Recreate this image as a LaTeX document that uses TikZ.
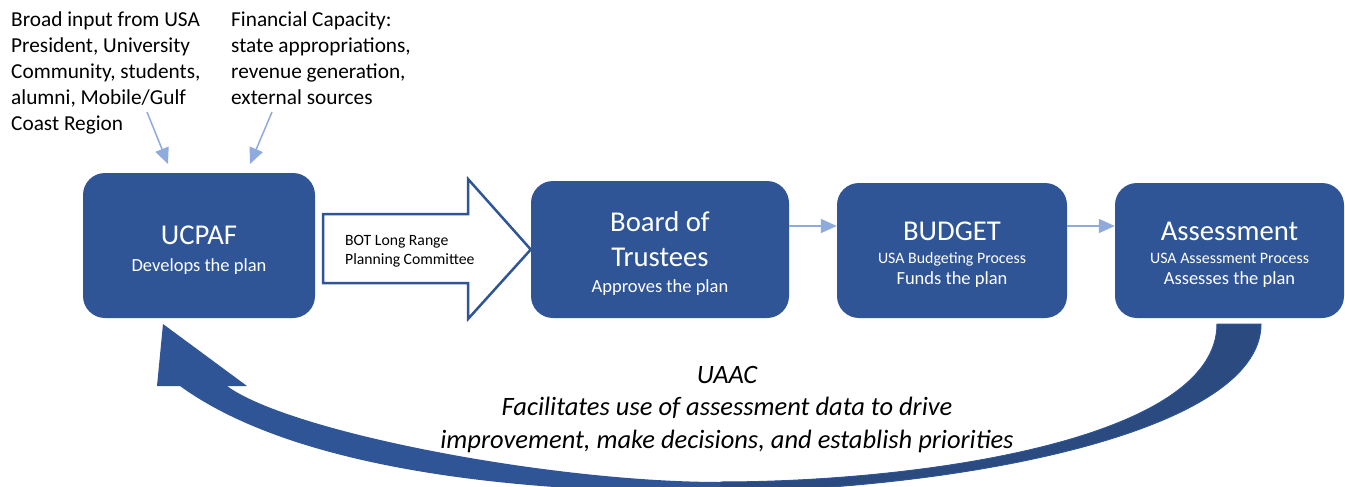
\documentclass[tikz,border=0pt]{standalone}
\usepackage{xcolor}
\usepackage{tikz}
\usetikzlibrary{shapes, arrows.meta, positioning}
\usepackage{fontspec}
\setmainfont{Carlito}

\definecolor{boxblue}{HTML}{2F5597}
\definecolor{tailblue}{HTML}{2A4A80}
\definecolor{linkblue}{HTML}{8FAADC}
\newcommand{\titlelift}{\rule{0pt}{27pt}}
\newcommand{\uaacloop}{(1217,324) .. controls (1217,440) and (920,482) .. (720,482)
    .. controls (550,482) and (290,432) .. (227,386) -- (247,386) -- (163,324) -- (157,386) -- (180,386)
    .. controls (290,466) and (500,492) .. (700,492) .. controls (950,492) and (1261,434) .. (1261,324) -- cycle}

\begin{document}
\begin{tikzpicture}[x=1pt, y=-1pt,
    stage/.style={rectangle, rounded corners=22pt, fill=boxblue, text=white, align=center, inner sep=0pt},
    link/.style={draw=linkblue, line width=1.5pt, -{Triangle[length=16pt, width=14pt]}},
    note/.style={align=left, inner sep=0pt, anchor=north west, font=\fontsize{21.3}{26}\selectfont}]
    \useasboundingbox (0,0) rectangle (1345,487);

    \node[note] (input) at (11,11.5) {Broad input from USA\\President, University\\Community, students,\\alumni, Mobile/Gulf\\Coast Region};
    \node[note] (funding) at (231,11.5) {Financial Capacity:\\state appropriations,\\revenue generation,\\external sources};

    \node[stage, minimum width=232pt, minimum height=145pt, font=\fontsize{28.7}{27}\selectfont] (ucpaf) at (199,245.5)
        {\titlelift UCPAF\\{\fontsize{18.5}{27}\selectfont Develops the plan}};
    \node[stage, minimum width=258pt, minimum height=137pt, font=\fontsize{28.7}{35}\selectfont] (board) at (660,249.5)
        {\titlelift Board of\\Trustees\\[-9pt]{\fontsize{18.5}{35}\selectfont Approves the plan}};
    \node[stage, minimum width=230pt, minimum height=135pt, font=\fontsize{28.7}{23}\selectfont] (budget) at (952,250.5)
        {\titlelift BUDGET\\{\fontsize{15.9}{23}\selectfont USA Budgeting Process}\\[-2pt]{\fontsize{18.5}{23}\selectfont Funds the plan}};
    \node[stage, minimum width=229pt, minimum height=135pt, font=\fontsize{28.7}{23}\selectfont] (assess) at (1229.5,250.5)
        {\titlelift Assessment\\{\fontsize{15.9}{23}\selectfont USA Assessment Process}\\[-2pt]{\fontsize{18.5}{23}\selectfont Assesses the plan}};

    \coordinate (input tail) at (147,112);
    \coordinate (input head) at (168,164);
    \coordinate (funding tail) at (272,112);
    \coordinate (funding head) at (250,164);
    \coordinate (row) at (0,226);
    \draw[link] (input tail) -- (input head);
    \draw[link] (funding tail) -- (funding head);
    \draw[link] (board.east |- row) -- (budget.west |- row);
    \draw[link] (budget.east |- row) -- (assess.west |- row);

    \draw[draw=boxblue, line width=2.5pt, fill=white] (323,214) -- (468,214) -- (468,179) -- (board.west)
        -- (468,319) -- (468,283) -- (323,283) -- cycle;
    \node[inner sep=0pt, anchor=west, align=left, font=\fontsize{15.7}{19}\selectfont] (bot) at (345,251)
        {BOT Long Range\\Planning Committee};

    \fill[boxblue] \uaacloop;
    \begin{scope}
        \clip (720,0) rectangle (1345,487);
        \filldraw[fill=tailblue, draw=boxblue, line width=1pt] \uaacloop;
    \end{scope}

    \node[inner sep=0pt, align=center, font=\itshape\fontsize{26.5}{32.5}\selectfont] (uaac) at (727,409.5)
        {UAAC\\Facilitates use of assessment data to drive\\improvement, make decisions, and establish priorities};
\end{tikzpicture}
\end{document}
